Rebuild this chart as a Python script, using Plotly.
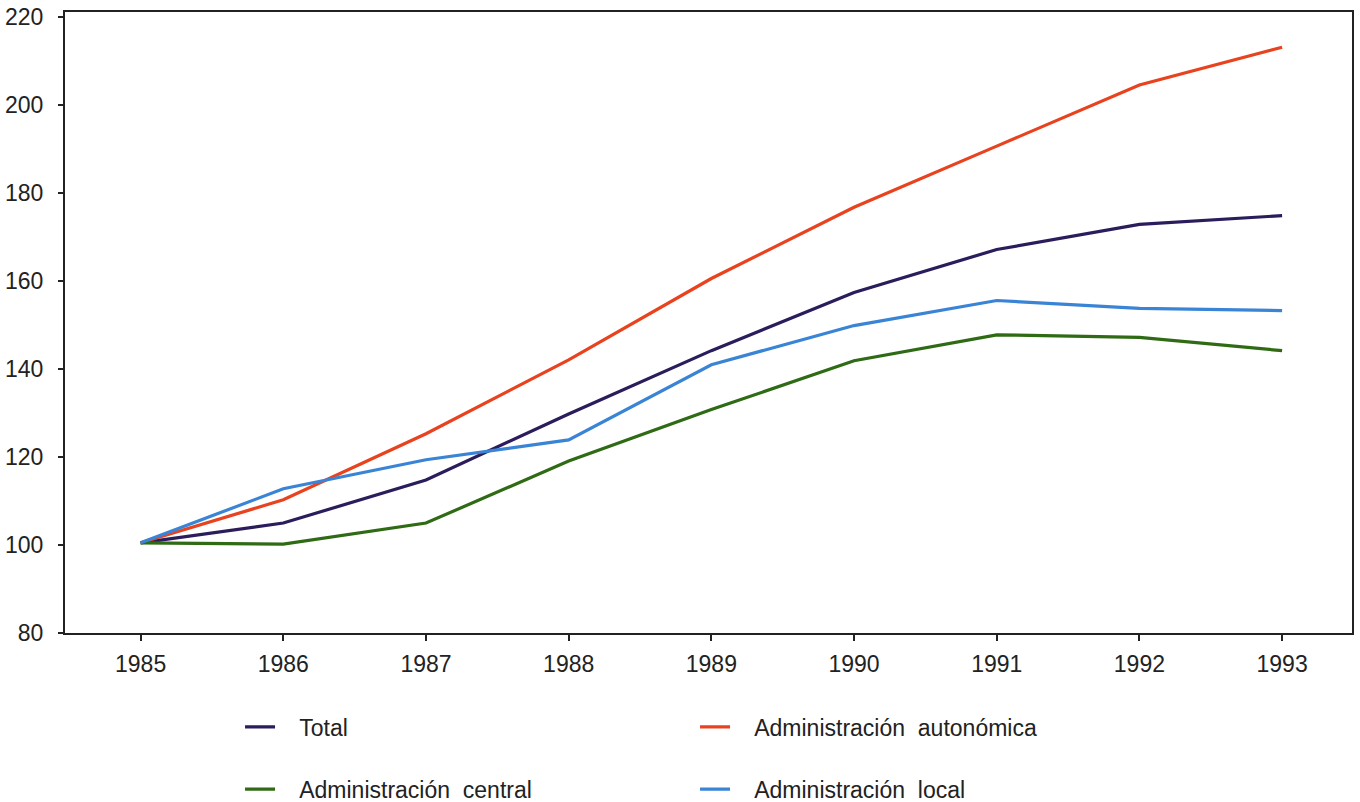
"""
Indices 1985=100, administraciones publicas, lineas por subsector
"""

import plotly.graph_objects as go

years = [1985, 1986, 1987, 1988, 1989, 1990, 1991, 1992, 1993]

total = [100.5, 105.0, 114.8, 129.8, 144.2, 157.4, 167.2, 172.9, 174.9]
autonomica = [100.5, 110.3, 125.3, 142.1, 160.6, 176.8, 190.7, 204.6, 213.2]
central = [100.5, 100.2, 105.0, 119.1, 130.8, 141.9, 147.8, 147.2, 144.2]
local = [100.5, 112.8, 119.4, 123.9, 141.0, 149.9, 155.6, 153.8, 153.3]

series_names = ["Total", "Administración autonómica",
                "Administración central", "Administración local"]
y_ticks = [80, 100, 120, 140, 160, 180, 200, 220]

colours = ["#2b1c5c", "#e8421e", "#2f6a14", "#3a84d6"]
pad = "\u00a0\u00a0\u00a0"

fig = go.Figure()
# first row of legend: Total, autonomica ; second row: central, local
for name, vals, col, leg in zip(series_names,
                                [total, autonomica, central, local],
                                colours,
                                ["legend", "legend", "legend2", "legend2"]):
    fig.add_trace(go.Scatter(
        x=years, y=vals, mode="lines", name=pad + name.replace(" ", "\u00a0 "),
        line=dict(color=col, width=3.2), legend=leg,
    ))

leg_common = dict(
    orientation="h", xanchor="left", yanchor="middle",
    xref="container", yref="container",
    entrywidthmode="pixels", entrywidth=410,
    font=dict(family="Liberation Sans, Arial", size=23, color="#222"),
    bgcolor="rgba(0,0,0,0)",
)

fig.update_layout(
    width=1360, height=802,
    margin=dict(l=65, r=8, t=12, b=169),
    paper_bgcolor="white", plot_bgcolor="white",
    font=dict(family="Liberation Sans, Arial", size=23, color="#222"),
    legend=dict(x=0.1765, y=0.0935, **leg_common),
    legend2=dict(x=0.1765, y=0.016, **leg_common),
    xaxis=dict(
        range=[1984.47, 1993.49], tickvals=years, ticks="outside",
        ticklen=6, tickwidth=2, tickcolor="#222", automargin=False,
        ticklabelstandoff=3,
        showline=True, linewidth=2, linecolor="#222", mirror=True,
        showgrid=False, zeroline=False,
    ),
    yaxis=dict(
        range=[80, 221.2], tickvals=y_ticks, ticks="outside",
        ticklen=5, tickwidth=2, tickcolor="#222", automargin=False,
        ticklabelstandoff=10,
        showline=True, linewidth=2, linecolor="#222", mirror=True,
        showgrid=False, zeroline=False,
    ),
)

# page body has a default 8px margin, drop it so the figure sits at 0,0
fig.write_html("out.html", config={"displayModeBar": False},
               post_script="document.body.style.margin='0';")
